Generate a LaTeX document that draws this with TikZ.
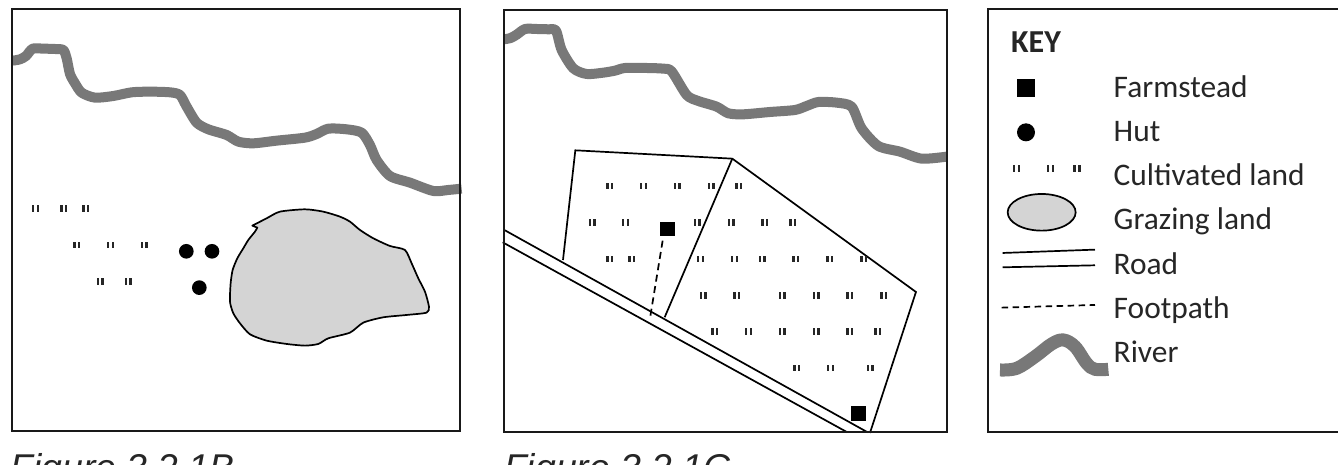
\documentclass[tikz,border=0pt]{standalone}
\usepackage{fontspec}
\setmainfont{Carlito}
\newfontfamily\capfont{Liberation Sans}
\definecolor{rivergrey}{gray}{0.47}
\definecolor{grazegrey}{gray}{0.83}
\definecolor{inkline}{gray}{0.1}
\tikzset{
  panel/.style={draw=inkline,line width=1.7pt},
  riverline/.style={draw=rivergrey,line width=10pt,line join=round},
  thin ink/.style={draw=black,line width=1.7pt},
  keytext/.style={anchor=base west,font=\fontsize{31.4}{31.4}\selectfont,text=black!85,inner sep=0pt},
  captext/.style={anchor=base west,font=\capfont\itshape\fontsize{37.3}{37.3}\selectfont,text=black!85,inner sep=0pt},
  sq/.style={fill=black,draw=none},
}
\newcommand{\cultmark}[2]{\fill[black!85] ({#1-3.8},{#2-3.4}) rectangle +(2.5,6.8);\fill[black!85] ({#1+0.9},{#2-3.4}) rectangle +(2.5,6.8);}
\begin{document}
\begin{tikzpicture}[x=1pt,y=-1pt]
\useasboundingbox (0,0) rectangle (1338,465);
\clip (0,0) rectangle (1338,465);
\fill[white] (0,0) rectangle (1338,465);
% Panel B
\begin{scope}[x=0.3333pt,y=-0.3333pt]
\draw[riverline] plot[smooth,tension=0.45] coordinates {(38,182)(60,178)(78,168)(98,146)(130,146)(165,147)(190,150)(200,175)(210,222)(225,250)(245,278)(285,293)(340,288)(395,277)(450,275)(510,277)(540,285)(560,320)(590,368)(625,388)(680,405)(715,425)(760,430)(830,422)(915,413)(950,402)(985,386)(1040,388)(1085,398)(1110,435)(1130,480)(1170,528)(1230,548)(1300,573)(1345,570)(1385,566)};
\draw[thin ink,fill=grazegrey,line join=round] plot[smooth,tension=0.4] coordinates {(772,683)(765,695)(745,720)(730,745)(712,775)(698,810)(692,850)(690,905)(700,940)(720,970)(750,1003)(800,1022)(860,1032)(915,1037)(955,1032)(985,1015)(1050,998)(1090,968)(1150,952)(1220,945)(1280,938)(1287,920)(1275,875)(1255,835)(1235,790)(1215,750)(1170,738)(1120,715)(1080,690)(1050,665)(1020,650)(970,635)(915,628)(840,635)(800,655)(757,677)} -- cycle;
\foreach \p/\q in {559/754,636/754,598/863} \fill[black] (\p,\q) circle (22);
\end{scope}
\foreach \p/\q in {107/626,192/626,258/626,231/735,332/735,433/735,301/844,385/844} {\cultmark{\p/3}{\q/3}}
\draw[panel] (12.3,9.3) rectangle (459.7,431);
\node[captext] (capb) at (10.5,480) {Figure 3.2.1B};
% Panel C
\begin{scope}[shift={(490,0)},x=0.3333pt,y=-0.3333pt]
\draw[riverline] plot[smooth,tension=0.45] coordinates {(42,118)(62,114)(80,104)(105,87)(140,87)(175,88)(198,92)(215,150)(250,205)(290,222)(340,218)(375,212)(405,204)(470,204)(520,206)(545,214)(590,285)(625,303)(680,320)(715,340)(760,343)(840,336)(915,330)(950,318)(985,306)(1040,308)(1085,320)(1115,385)(1165,438)(1230,455)(1295,476)(1370,470)};
\draw[thin ink,line join=miter] (219,780) -- (256,451) -- (727,476) -- (1278,876) -- (1140,1299);
\draw[thin ink] (727,476) -- (524,952);
\draw[thin ink] (43,690) -- (1133,1297);
\draw[thin ink] (38,727) -- (1072,1297);
\draw[black,line width=1.7pt,dash pattern=on 7pt off 4.5pt] (518,722) -- (480,955);
\fill[sq] (511,665) rectangle (555,709);
\fill[sq] (1083,1219) rectangle (1127,1263);
\end{scope}
\foreach \q/\r in {558/{360,461,562,664,747},667/{307,407,622,724,825,909},777/{360,426,632,734,817,918,1020,1122},886/{640,741,877,979,1080,1182},995/{675,776,877,979,1080,1164},1104/{921,1022,1141}} {
  \foreach \p in \r {\cultmark{490+\p/3}{\q/3}}
}
\draw[panel] (504.3,10.3) rectangle (946.7,432);
\node[captext] (capc) at (504,480) {Figure 3.2.1C};
% Key
\draw[panel] (1339.5,8.7) -- (988.3,8.7) -- (988.3,432.3) -- (1339.5,432.3);
\node[anchor=base west,font=\bfseries\fontsize{32}{32}\selectfont,text=black!85,inner sep=0pt] (keytitle) at (1011,52.5) {KEY};
\node[keytext] (t1) at (1113.5,97.5) {Farmstead};
\node[keytext] (t2) at (1113.5,141.5) {Hut};
\node[keytext] (t3) at (1113.5,185.5) {Cultivated land};
\node[keytext] (t4) at (1113.5,229.5) {Grazing land};
\node[keytext] (t5) at (1113.5,274.5) {Road};
\node[keytext] (t6) at (1113.5,318.5) {Footpath};
\node[keytext] (t7) at (1113.5,362.5) {River};
\begin{scope}[shift={(980,0)},x=0.3333pt,y=-0.3333pt]
\fill[sq] (111,237) rectangle (165,291);
\fill[black] (138,397) circle (27);
\draw[thin ink,fill=grazegrey] (185,637) ellipse (102 and 55);
\draw[thin ink] (68,759) -- (345,749);
\draw[thin ink] (68,802) -- (345,796);
\draw[black,line width=1.7pt,dash pattern=on 6.5pt off 4.5pt] (65,923) -- (345,915);
\draw[draw=rivergrey,line width=13pt] plot[smooth,tension=0.6] coordinates {(60,1110)(110,1105)(165,1070)(215,1032)(250,1020)(285,1040)(320,1090)(345,1108)(385,1108)};
\end{scope}
\foreach \p in {1016.7,1050.7,1077.3} {
  \fill[black!85] ({\p-3.9},164.7) rectangle +(2.6,7.5);
  \fill[black!85] ({\p+1.1},164.7) rectangle +(2.6,7.5);
}
\end{tikzpicture}
\end{document}
